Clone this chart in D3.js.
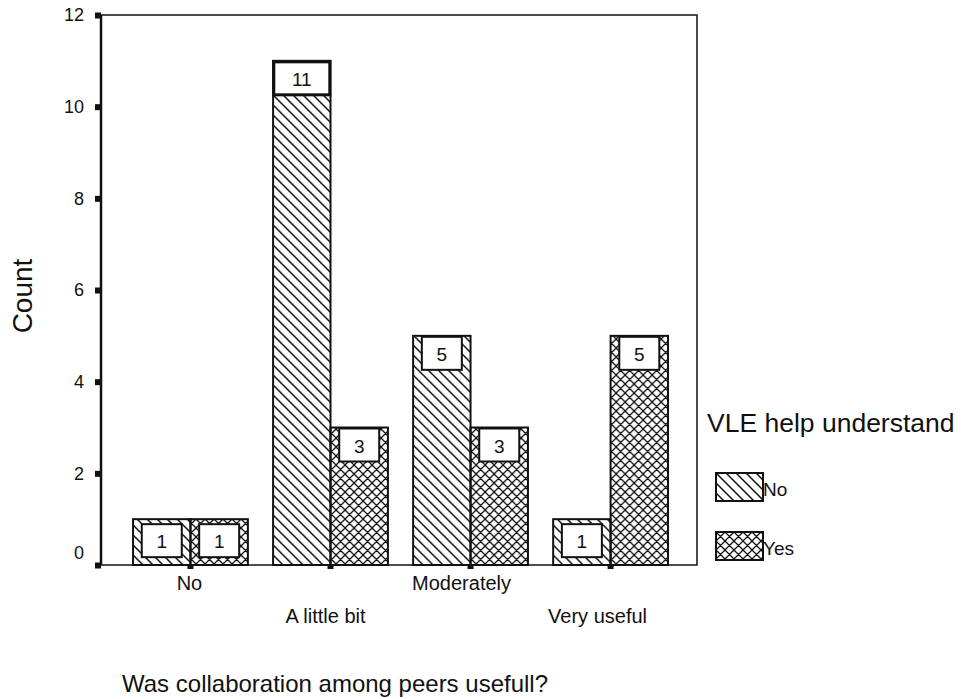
<!DOCTYPE html>
<html>
<head>
<meta charset="utf-8">
<script src="https://cdn.jsdelivr.net/npm/d3@7"></script>
<style>
  body { margin: 0; background: #fff; }
  text { font-family: Arial, "Liberation Sans", sans-serif; fill: #111; }
</style>
</head>
<body>
<div id="chart"></div>
<script>
// data
var categories = ["No", "A little bit", "Moderately", "Very useful"];
var series = ["No", "Yes"];
var valuesNo = [1, 11, 5, 1];
var valuesYes = [1, 3, 3, 5];
var yTicks = [0, 2, 4, 6, 8, 10, 12];

var width = 962, height = 699;
var margin = {top: 15, right: 265, bottom: 134, left: 101};
var pw = width - margin.left - margin.right;
var ph = height - margin.top - margin.bottom;

var svg = d3.select("#chart").append("svg")
    .attr("width", width)
    .attr("height", height);

var defs = svg.append("defs");
// diagonal hatch for "No"
var p1 = defs.append("pattern")
    .attr("id", "hatchNo")
    .attr("patternUnits", "userSpaceOnUse")
    .attr("width", 10).attr("height", 10);
p1.append("path")
    .attr("d", "M0,0 L10,10 M-10,0 L0,10 M0,-10 L10,0 M10,0 L20,10 M0,10 L10,20")
    .attr("stroke", "#111").attr("stroke-width", 1.5);
// cross hatch for "Yes"
var p2 = defs.append("pattern")
    .attr("id", "hatchYes")
    .attr("patternUnits", "userSpaceOnUse")
    .attr("width", 9).attr("height", 9);
p2.append("path")
    .attr("d", "M0,0 L9,9 M-9,0 L0,9 M0,-9 L9,0 M9,0 L0,9 M0,0 L-9,9 M18,0 L9,9 M9,-9 L0,0 M9,9 L0,18")
    .attr("stroke", "#111").attr("stroke-width", 1.3);

var fills = {"No": "url(#hatchNo)", "Yes": "url(#hatchYes)"};

var g = svg.append("g").attr("transform", "translate(" + margin.left + "," + margin.top + ")");

var x0 = d3.scaleBand().domain(categories).range([0, pw])
    .paddingInner(0.18).paddingOuter(0.218).align(0.525);
var x1 = d3.scaleBand().domain(series).range([0, x0.bandwidth()]);
var y = d3.scaleLinear().domain([0, 12]).range([ph, 0]);

var rows = categories.map(function(c, i) {
    return {cat: c, vals: [{s: "No", v: valuesNo[i]}, {s: "Yes", v: valuesYes[i]}]};
});

var grp = g.selectAll(".grp").data(rows).enter().append("g")
    .attr("class", "grp")
    .attr("transform", function(d) { return "translate(" + x0(d.cat) + ",0)"; });

var bar = grp.selectAll(".bar").data(function(d) { return d.vals; }).enter().append("g");

bar.append("rect")
    .attr("x", function(d) { return x1(d.s); })
    .attr("y", function(d) { return y(d.v); })
    .attr("width", x1.bandwidth())
    .attr("height", function(d) { return ph - y(d.v); })
    .attr("fill", function(d) { return fills[d.s]; })
    .attr("stroke", "#111")
    .attr("stroke-width", 2);

// value boxes
function boxW(d) {
    var digits = String(d.v).length;
    return Math.min(x1.bandwidth(), 24 + 16 * digits);
}
function boxTop(d) { return y(d.v) + (d.v > 1 ? 1 : 5); }
bar.append("rect")
    .attr("x", function(d) { return x1(d.s) + (x1.bandwidth() - boxW(d)) / 2; })
    .attr("y", boxTop)
    .attr("width", boxW)
    .attr("height", 33)
    .attr("fill", "#fff")
    .attr("stroke", "#111")
    .attr("stroke-width", function(d) { return d.v > 9 ? 3 : 2; });

bar.append("text")
    .attr("x", function(d) { return x1(d.s) + x1.bandwidth() / 2; })
    .attr("y", function(d) { return boxTop(d) + 24; })
    .attr("text-anchor", "middle")
    .style("font-size", "19px")
    .text(function(d) { return d.v; });

// frame
g.append("rect")
    .attr("x", 0).attr("y", 0)
    .attr("width", pw).attr("height", ph)
    .attr("fill", "none")
    .attr("stroke", "#111")
    .attr("stroke-width", 1.5);
g.append("line").attr("x1", 0).attr("x2", 0).attr("y1", 0).attr("y2", ph)
    .attr("stroke", "#111").attr("stroke-width", 2.5);

// y axis
var yAxis = d3.axisLeft(y).tickValues(yTicks).tickSize(0).tickPadding(17);
var ya = g.append("g").call(yAxis);
ya.select(".domain").remove();
ya.selectAll("text")
    .attr("font-family", null).attr("font-size", null)
    .style("font-size", "18px")
    .attr("dy", function(d) { return d === 0 ? "-0.35em" : "0.32em"; });
ya.selectAll(".tick").append("rect")
    .attr("x", -6).attr("y", -3).attr("width", 6).attr("height", 6)
    .attr("fill", "#111");

// x axis
var xa = g.append("g").attr("transform", "translate(0," + ph + ")");
xa.selectAll(".xt").data(categories).enter().append("rect")
    .attr("x", function(d) { return x0(d) + x0.bandwidth() / 2 - 3; })
    .attr("y", -1).attr("width", 6).attr("height", 5)
    .attr("fill", "#111");
xa.selectAll(".xl").data(categories).enter().append("text")
    .attr("x", function(d, i) { return x0(d) + x0.bandwidth() / 2 - (1 + i * 4); })
    .attr("y", function(d, i) { return i % 2 === 0 ? 25 : 58; })
    .attr("text-anchor", "middle")
    .style("font-size", "20px")
    .text(function(d) { return d; });

// axis titles
svg.append("text")
    .attr("transform", "translate(32,296) rotate(-90)")
    .attr("text-anchor", "middle")
    .style("font-size", "28px")
    .text("Count");

svg.append("text")
    .attr("x", 122).attr("y", 692)
    .style("font-size", "24px")
    .text("Was collaboration among peers usefull?");

// legend
var lg = svg.append("g").attr("transform", "translate(707,0)");
lg.append("text").attr("x", 0).attr("y", 432)
    .style("font-size", "26.5px")
    .text("VLE help understand");
var li = lg.selectAll(".li").data(series).enter().append("g")
    .attr("transform", function(d, i) { return "translate(9," + (473 + i * 59) + ")"; });
li.append("rect")
    .attr("width", 47).attr("height", 28)
    .attr("fill", function(d) { return fills[d]; })
    .attr("stroke", "#111").attr("stroke-width", 2);
li.append("text")
    .attr("x", 47).attr("y", 23)
    .style("font-size", "19px")
    .text(function(d) { return d; });
</script>
</body>
</html>
